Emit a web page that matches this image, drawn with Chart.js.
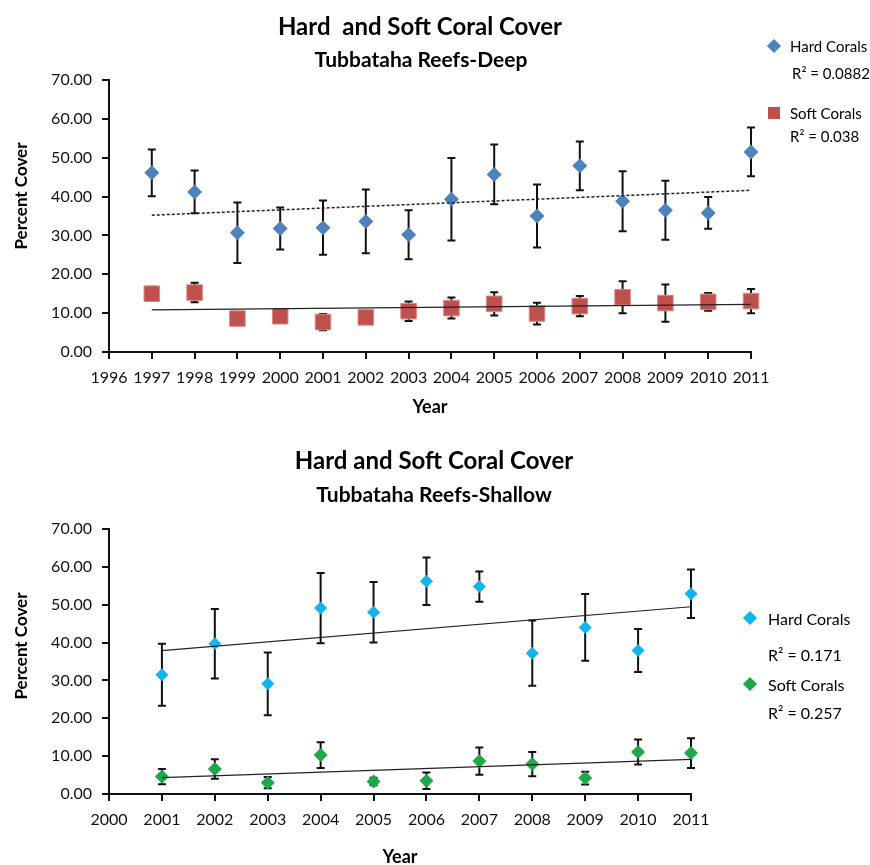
<!DOCTYPE html>
<html>
<head>
<meta charset="utf-8">
<script src="https://cdn.jsdelivr.net/npm/chart.js@4.4.1/dist/chart.umd.min.js"></script>
<style>
  body { margin: 0; width: 870px; height: 865px; background: #fff; position: relative; overflow: hidden; font-family: Lato, sans-serif; color: #000; }
  canvas { position: absolute; left: 0; }
  .title { position: absolute; transform: translate(-50%, -50%); font-weight: bold; white-space: pre; }
  .ytitle { position: absolute; transform: translate(-50%, -50%) rotate(-90deg); font-weight: bold; font-size: 17px; white-space: nowrap; }
  .lg { position: absolute; transform: translateY(-50%); white-space: nowrap; }
  .mk { position: absolute; }
</style>
</head>
<body>
<canvas id="deep" width="870" height="430" style="top:0;"></canvas>
<canvas id="shallow" width="870" height="435" style="top:430px;"></canvas>

<div class="title" style="left:420px; top:25px; font-size:24px;">Hard  and Soft Coral Cover</div>
<div class="title" style="left:421px; top:58px; font-size:21px;">Tubbataha Reefs-Deep</div>
<div class="title" style="left:434px; top:459px; font-size:24px;">Hard and Soft Coral Cover</div>
<div class="title" style="left:434px; top:493px; font-size:21px;">Tubbataha Reefs-Shallow</div>
<div class="ytitle" style="left:20px; top:196px;">Percent Cover</div>
<div class="ytitle" style="left:20px; top:646px;">Percent Cover</div>

<div class="mk" style="left:769px; top:41px; width:10px; height:10px; background:#4F81BD; transform:rotate(45deg);"></div>
<div class="lg" style="left:790px; top:46px; font-size:15px;">Hard Corals</div>
<div class="lg" style="left:792px; top:73px; font-size:15px;">R² = 0.0882</div>
<div class="mk" style="left:768px; top:107px; width:12px; height:12px; background:#C0504D;"></div>
<div class="lg" style="left:790px; top:113px; font-size:15px;">Soft Corals</div>
<div class="lg" style="left:790px; top:136px; font-size:15px;">R² = 0.038</div>

<div class="mk" style="left:745px; top:613px; width:10px; height:10px; background:#12B4EC; transform:rotate(45deg);"></div>
<div class="lg" style="left:768px; top:618px; font-size:16px;">Hard Corals</div>
<div class="lg" style="left:768px; top:654px; font-size:16px;">R² = 0.171</div>
<div class="mk" style="left:745px; top:679px; width:10px; height:10px; background:#1FA84A; transform:rotate(45deg);"></div>
<div class="lg" style="left:768px; top:684px; font-size:16px;">Soft Corals</div>
<div class="lg" style="left:768px; top:712px; font-size:16px;">R² = 0.257</div>

<script>
// Tubbataha Reefs - Deep
const deepYears = [1997, 1998, 1999, 2000, 2001, 2002, 2003, 2004, 2005, 2006, 2007, 2008, 2009, 2010, 2011];
const deepHard = [46.1, 41.2, 30.7, 31.8, 32.0, 33.6, 30.2, 39.3, 45.7, 35.0, 47.9, 38.8, 36.5, 35.8, 51.5];
const deepHardErr = [6.0, 5.5, 7.8, 5.4, 7.0, 8.2, 6.3, 10.6, 7.7, 8.1, 6.3, 7.7, 7.6, 4.1, 6.3];
const deepSoft = [15.0, 15.3, 8.6, 9.2, 7.7, 8.9, 10.5, 11.3, 12.4, 9.9, 11.8, 14.1, 12.6, 12.9, 13.1];
const deepSoftErr = [1.8, 2.5, 1.5, 1.5, 2.1, 1.5, 2.5, 2.7, 3.0, 2.8, 2.6, 4.1, 4.8, 2.3, 3.1];

// Tubbataha Reefs - Shallow
const shallowYears = [2001, 2002, 2003, 2004, 2005, 2006, 2007, 2008, 2009, 2010, 2011];
const shallowHard = [31.5, 39.7, 29.1, 49.1, 48.0, 56.2, 54.8, 37.2, 44.0, 37.9, 52.9];
const shallowHardErr = [8.2, 9.2, 8.3, 9.3, 8.0, 6.3, 4.0, 8.6, 8.8, 5.7, 6.4];
const shallowSoft = [4.6, 6.6, 3.0, 10.3, 3.3, 3.5, 8.7, 7.9, 4.2, 11.1, 10.8];
const shallowSoftErr = [2.0, 2.6, 1.5, 3.4, 1.0, 2.2, 3.6, 3.2, 1.7, 3.3, 3.9];

const yTicks = [0, 10, 20, 30, 40, 50, 60, 70];

function points(xs, ys) {
  return xs.map((x, i) => ({ x: x, y: ys[i] }));
}

// least squares trend line, evaluated at the first and last year
function trend(xs, ys) {
  const n = xs.length;
  const mx = xs.reduce((a, b) => a + b, 0) / n;
  const my = ys.reduce((a, b) => a + b, 0) / n;
  let sxy = 0, sxx = 0;
  xs.forEach((x, i) => { sxy += (x - mx) * (ys[i] - my); sxx += (x - mx) * (x - mx); });
  const b = sxy / sxx;
  const a = my - b * mx;
  const x0 = xs[0], x1 = xs[n - 1];
  return [{ x: x0, y: a + b * x0 }, { x: x1, y: a + b * x1 }];
}

const errorBars = {
  id: "errorBars",
  beforeDatasetsDraw(chart) {
    const ctx = chart.ctx;
    const xs = chart.scales.x, ys = chart.scales.y;
    ctx.save();
    ctx.strokeStyle = "#111";
    ctx.lineWidth = 2;
    chart.data.datasets.forEach((ds) => {
      if (!ds.errors) return;
      ds.data.forEach((p, i) => {
        const e = ds.errors[i];
        const px = xs.getPixelForValue(p.x);
        const top = ys.getPixelForValue(p.y + e);
        const bot = ys.getPixelForValue(p.y - e);
        ctx.beginPath();
        ctx.moveTo(px, top); ctx.lineTo(px, bot);
        ctx.moveTo(px - 4, top); ctx.lineTo(px + 4, top);
        ctx.moveTo(px - 4, bot); ctx.lineTo(px + 4, bot);
        ctx.stroke();
      });
    });
    ctx.restore();
  }
};

function makeOptions(xMin, xMax, padRight, padTop, padBottom, xHeight, yearPad) {
  return {
    responsive: false,
    animation: false,
    layout: { padding: { left: 0, top: padTop, right: padRight, bottom: padBottom } },
    plugins: { legend: { display: false }, tooltip: { enabled: false } },
    scales: {
      x: {
        type: "linear",
        min: xMin,
        max: xMax,
        afterFit: (s) => { s.height = xHeight; },
        afterBuildTicks: (s) => {
          const t = [];
          for (let v = xMin; v <= xMax; v++) t.push({ value: v });
          s.ticks = t;
        },
        ticks: { color: "#111", padding: 9, font: { family: "Lato", size: 16 }, callback: (v) => String(v), maxRotation: 0, autoSkip: false },
        grid: { drawOnChartArea: false, drawTicks: true, tickLength: 7, color: "#111", lineWidth: 2 },
        border: { color: "#111", width: 2 },
        title: { display: true, text: "Year", color: "#000", font: { family: "Lato", size: 18, weight: "bold" }, padding: { top: 0, bottom: yearPad } }
      },
      y: {
        min: 0,
        max: 70,
        afterFit: (s) => { s.width = 109; },
        afterBuildTicks: (s) => { s.ticks = yTicks.map((v) => ({ value: v })); },
        ticks: { color: "#111", padding: 10, font: { family: "Lato", size: 16 }, callback: (v) => v.toFixed(2) },
        grid: { drawOnChartArea: false, drawTicks: true, tickLength: 7, color: "#111", lineWidth: 2 },
        border: { color: "#111", width: 2 }
      }
    }
  };
}

const deepOptions = makeOptions(1996, 2011, 119, 80, 8, 70, 4);
deepOptions.scales.x.title.align = "center";

new Chart(document.getElementById("deep"), {
  type: "scatter",
  data: {
    datasets: [
      { type: "line", data: trend(deepYears, deepHard), borderColor: "#222", borderWidth: 1.5, borderDash: [3, 2], pointRadius: 0, order: -1, clip: false },
      { type: "line", data: trend(deepYears, deepSoft), borderColor: "#222", borderWidth: 1.2, pointRadius: 0, order: -1, clip: false },
      { label: "Hard Corals", data: points(deepYears, deepHard), errors: deepHardErr, pointStyle: "rectRot", pointRadius: 7.5, backgroundColor: "#4F81BD", borderColor: "#4F81BD", borderWidth: 0, clip: false },
      { label: "Soft Corals", data: points(deepYears, deepSoft), errors: deepSoftErr, pointStyle: "rect", pointRadius: 11, backgroundColor: "#C0504D", borderColor: "#D98A88", borderWidth: 1, clip: false }
    ]
  },
  options: deepOptions,
  plugins: [errorBars]
});

new Chart(document.getElementById("shallow"), {
  type: "scatter",
  data: {
    datasets: [
      { type: "line", data: trend(shallowYears, shallowHard), borderColor: "#222", borderWidth: 1.2, pointRadius: 0, order: -1, clip: false },
      { type: "line", data: trend(shallowYears, shallowSoft), borderColor: "#222", borderWidth: 1.2, pointRadius: 0, order: -1, clip: false },
      { label: "Hard Corals", data: points(shallowYears, shallowHard), errors: shallowHardErr, pointStyle: "rectRot", pointRadius: 6.5, backgroundColor: "#12B4EC", borderColor: "#12B4EC", borderWidth: 0, clip: false },
      { label: "Soft Corals", data: points(shallowYears, shallowSoft), errors: shallowSoftErr, pointStyle: "rectRot", pointRadius: 7, backgroundColor: "#1FA84A", borderColor: "#1FA84A", borderWidth: 0, clip: false }
    ]
  },
  options: makeOptions(2000, 2011, 179, 99, 0, 71, -3),
  plugins: [errorBars]
});
</script>
</body>
</html>
